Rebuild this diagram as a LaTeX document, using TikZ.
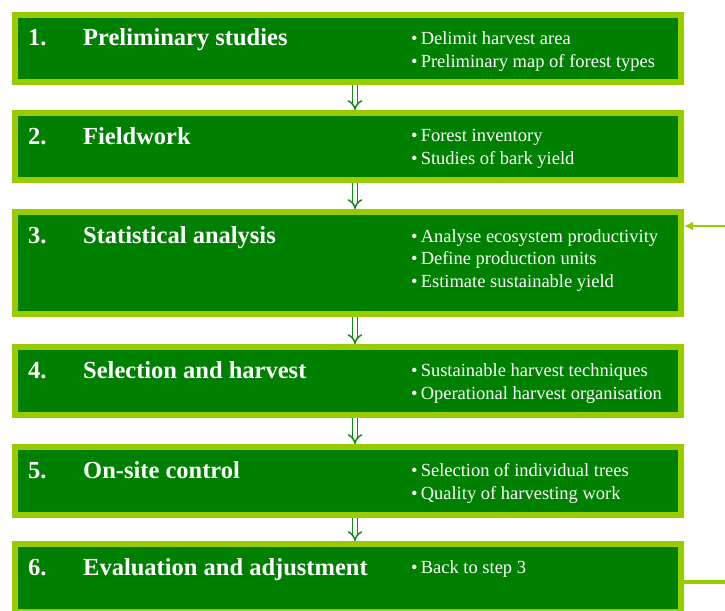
\documentclass[tikz,border=0pt]{standalone}
\usepackage{fontspec}
\setmainfont{Liberation Serif}
\usepackage{xcolor}
\usepackage{tikz}
\tikzset{>=latex}
\usetikzlibrary{arrows.meta}

\definecolor{leaf}{RGB}{0,128,0}
\definecolor{lime}{RGB}{153,204,0}
\definecolor{arrowgreen}{RGB}{20,135,20}

\tikzset{
  stagebox/.style={draw=lime,fill=leaf,line width=6pt,minimum width=666pt,inner sep=0pt},
  stagenum/.style={anchor=base west,inner sep=0pt,text=white,font=\fontsize{24.5}{28}\selectfont\bfseries},
  stagetitle/.style={anchor=base west,inner sep=0pt,text=white,font=\fontsize{24.5}{28}\selectfont\bfseries},
  stageitems/.style={anchor=north west,text=white,align=left,inner sep=0pt,font=\fontsize{18.5}{22.5}\selectfont},
  nextstage/.style={draw=arrowgreen,line width=1.5pt,double=white,double distance=3.4pt,-{Implies}},
  feedback/.style={draw=lime,line width=2.5pt}
}

\begin{document}
\begin{tikzpicture}[x=1pt,y=-1pt]
\useasboundingbox (0,0) rectangle (725,610);
\clip (0,0) rectangle (725,610);

% the six stages
\node[stagebox,minimum height=67pt] (s1) at (348,48.5) {};
\node[stagenum] (n1) at (28,46) {1.};
\node[stagetitle] (t1) at (83,46) {Preliminary studies};
\node[stageitems] (b1) at (411,31.5) {\textbullet\,Delimit harvest area\\ \textbullet\,Preliminary map of forest types};

\node[stagebox,minimum height=67pt] (s2) at (348,146.5) {};
\node[stagenum] (n2) at (28,144) {2.};
\node[stagetitle] (t2) at (83,144) {Fieldwork};
\node[stageitems] (b2) at (411,129.5) {\textbullet\,Forest inventory\\ \textbullet\,Studies of bark yield};

\node[stagebox,minimum height=102pt] (s3) at (348,263) {};
\node[stagenum] (n3) at (28,243) {3.};
\node[stagetitle] (t3) at (83,243) {Statistical analysis};
\node[stageitems] (b3) at (411,229) {\textbullet\,Analyse ecosystem productivity\\ \textbullet\,Define production units\\ \textbullet\,Estimate sustainable yield};

\node[stagebox,minimum height=68pt] (s4) at (348,381) {};
\node[stagenum] (n4) at (28,378) {4.};
\node[stagetitle] (t4) at (83,378) {Selection and harvest};
\node[stageitems] (b4) at (411,363.5) {\textbullet\,Sustainable harvest techniques\\ \textbullet\,Operational harvest organisation};

\node[stagebox,minimum height=68pt] (s5) at (348,481) {};
\node[stagenum] (n5) at (28,478) {5.};
\node[stagetitle] (t5) at (83,478) {On-site control};
\node[stageitems] (b5) at (411,463.5) {\textbullet\,Selection of individual trees\\ \textbullet\,Quality of harvesting work};

\node[stagebox,minimum height=68pt] (s6) at (348,578) {};
\node[stagenum] (n6) at (28,575) {6.};
\node[stagetitle] (t6) at (83,575) {Evaluation and adjustment};
\node[stageitems] (b6) at (411,560.5) {\textbullet\,Back to step 3};

% flow between stages
\draw[nextstage] ([xshift=7pt]s1.south) -- ([xshift=7pt]s2.north);
\draw[nextstage] ([xshift=7pt]s2.south) -- ([xshift=7pt]s3.north);
\draw[nextstage] ([xshift=7pt]s3.south) -- ([xshift=7pt]s4.north);
\draw[nextstage] ([xshift=7pt]s4.south) -- ([xshift=7pt]s5.north);
\draw[nextstage] ([xshift=7pt]s5.south) -- ([xshift=7pt]s6.north);

% loop back from stage 6 to stage 3
\coordinate (fbin) at (725,226);
\coordinate (fbout) at (725,582);
\draw[feedback,-{Latex[length=9pt,width=9pt]}] (fbin) -- (s3.east |- fbin);
\draw[feedback,line width=4.5pt] (s6.east |- fbout) -- (fbout);
\end{tikzpicture}
\end{document}
